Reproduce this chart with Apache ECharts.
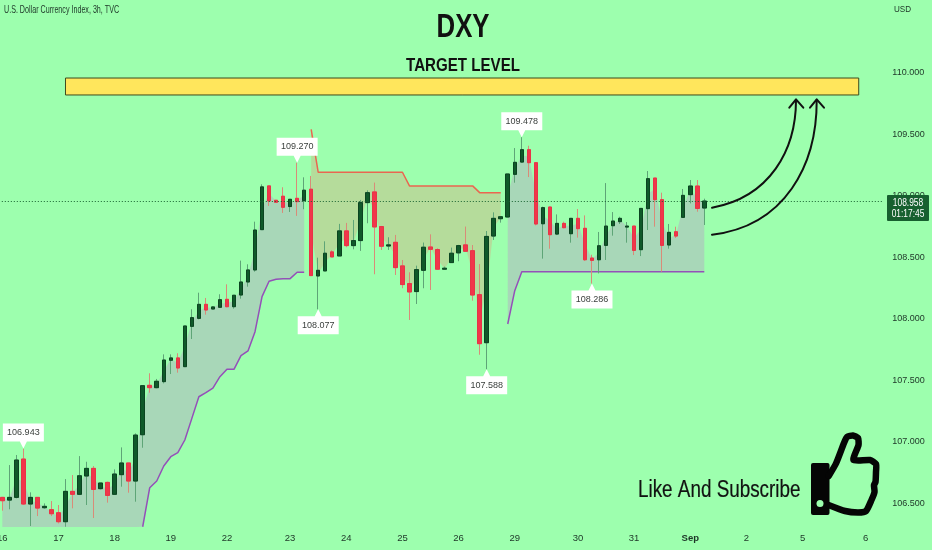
<!DOCTYPE html>
<html>
<head>
<meta charset="utf-8">
<style>html,body{margin:0;padding:0;background:#9dffae}#c{width:932px;height:550px}</style>
<script src="https://cdn.jsdelivr.net/npm/echarts@6/dist/echarts.min.js"></script>
</head>
<body>
<div id="c"></div>
<script>
const opens = [106.546,106.524,106.546,106.858,106.492,106.546,106.462,106.446,106.421,106.348,106.595,106.571,106.720,106.782,106.617,106.668,106.571,106.731,106.826,106.679,107.056,107.458,107.439,107.488,107.662,107.681,107.610,107.938,108.003,108.117,108.079,108.093,108.158,108.098,108.193,108.299,108.397,108.725,109.081,108.964,108.997,108.913,108.980,108.961,109.054,108.348,108.389,108.544,108.511,108.715,108.595,108.636,108.945,109.032,108.750,108.592,108.622,108.430,108.286,108.221,108.394,108.584,108.563,108.403,108.457,108.536,108.601,108.554,108.196,107.805,108.673,108.814,108.828,109.175,109.275,109.376,109.270,108.773,108.909,108.689,108.776,108.692,108.817,108.736,108.494,108.480,108.597,108.757,108.790,108.746,108.754,108.562,108.896,109.145,108.969,108.600,108.708,108.825,109.010,109.080,108.901];
const closes = [106.519,106.546,106.850,106.492,106.546,106.459,106.473,106.413,106.348,106.595,106.571,106.722,106.782,106.611,106.663,106.562,106.736,106.826,106.679,107.053,107.455,107.439,107.491,107.664,107.681,107.599,107.941,108.009,108.117,108.071,108.096,108.155,108.098,108.191,108.299,108.397,108.722,109.073,108.959,108.948,108.907,108.972,108.953,109.046,108.351,108.394,108.533,108.503,108.715,108.595,108.636,108.945,109.026,108.747,108.590,108.601,108.416,108.278,108.218,108.400,108.582,108.565,108.403,108.411,108.533,108.595,108.549,108.193,107.797,108.670,108.817,108.830,109.178,109.273,109.376,109.270,108.771,108.904,108.684,108.776,108.741,108.817,108.733,108.480,108.475,108.594,108.754,108.795,108.817,108.754,108.556,108.898,109.140,108.969,108.597,108.703,108.673,109.004,109.080,108.898,108.958];
const lows = [106.438,106.449,106.538,106.484,106.313,106.394,106.454,106.394,106.334,106.307,106.457,106.565,106.484,106.378,106.611,106.503,106.571,106.633,106.584,106.511,106.950,107.398,107.434,107.474,107.550,107.561,107.607,107.835,107.995,108.033,108.077,108.088,108.093,108.082,108.163,108.261,108.383,108.725,108.918,108.945,108.861,108.869,108.837,108.891,108.351,108.077,108.389,108.503,108.511,108.582,108.565,108.552,108.777,108.362,108.560,108.560,108.356,108.248,107.990,108.120,108.248,108.234,108.397,108.397,108.457,108.468,108.549,108.147,107.707,107.588,108.641,108.782,108.825,109.107,109.270,109.153,108.760,108.489,108.570,108.681,108.736,108.619,108.660,108.470,108.286,108.369,108.478,108.676,108.771,108.619,108.518,108.510,108.722,108.749,108.383,108.570,108.657,108.825,108.939,108.871,108.763];
const highs = [106.550,106.809,106.891,106.943,106.587,106.546,106.497,106.516,106.484,106.695,106.728,106.882,106.836,106.801,106.663,106.674,106.774,106.953,106.826,107.067,107.460,107.556,107.510,107.710,107.710,107.719,107.941,108.077,108.212,108.169,108.101,108.199,108.280,108.191,108.473,108.443,108.790,109.094,109.081,108.967,109.070,108.972,109.270,109.151,109.162,108.497,108.630,108.557,108.772,108.780,108.804,108.967,109.045,109.108,108.755,108.663,108.682,108.478,108.378,108.432,108.620,108.687,108.573,108.424,108.579,108.601,108.750,108.600,108.445,108.714,108.866,108.836,109.178,109.389,109.478,109.408,109.270,108.912,108.912,108.849,108.790,108.817,108.893,108.841,108.521,108.706,109.104,108.868,108.830,108.787,108.754,108.898,109.202,109.145,109.026,108.771,108.749,109.056,109.129,109.129,108.977];
const supportFirst = [106.307,106.625,106.679,106.801,106.877,106.910,107.013,107.189,107.365,107.398,107.436,107.528,107.588,107.588,107.700,107.738,107.895,108.180,108.305,108.321,108.326,108.326,108.378,108.378];
const supportSecond = [107.957,108.228,108.383,108.383,108.383,108.383,108.383,108.383,108.383,108.383,108.383,108.383,108.383,108.383,108.383,108.383,108.383,108.383,108.383,108.383,108.383,108.383,108.383,108.383,108.383,108.383,108.383,108.383,108.383];
const resistance = [109.542,109.192,109.192,109.192,109.192,109.192,109.192,109.192,109.192,109.192,109.192,109.192,109.192,109.192,109.081,109.081,109.081,109.081,109.081,109.081,109.081,109.081,109.081,109.081,109.026,109.026,109.026,109.026];
const dayTicks = ['16','17','18','19','22','23','24','25','26','29','30','31','Sep','2','5','6'];
const dayTickSlots = [0,8,16,24,32,41,49,57,65,73,82,90,98,106,114,123];
const yTicks = [106.5,107,107.5,108,108.5,109,109.5,110];
const calloutSlots = [3,42,74,45,69,84];
const calloutValues = [106.943,109.270,109.478,108.077,107.588,108.286];
const calloutUp = [true,true,true,false,false,false];
const targetLow = 109.821, targetHigh = 109.959, targetFrom = 9, targetTo = 122;
const lastPrice = 108.958;
const yMin = 106.305, yMax = 110.594;
const slotCount = 126;

const BG = '#9dffae', TXT = '#1d3527', FONT = '"Liberation Sans",sans-serif';
const GREEN = '#10592a', GREEN_B = '#0b4420', RED = '#f1364a', RED_B = '#e83347';
const xLabels = Array.from({length: slotCount}, (_, i) => { const k = dayTickSlots.indexOf(i); return k < 0 ? '' : dayTicks[k]; });
const n = opens.length;
const full = opens.map((o, i) => [o, closes[i], lows[i], highs[i]]);
const bodies = opens.map((o, i) => [o, closes[i], Math.min(o, closes[i]), Math.max(o, closes[i])]);
const mids = opens.map((o, i) => (o + closes[i]) / 2);
const nulls = k => Array(k).fill(null);
const supportLine = nulls(20).concat(supportFirst, nulls(28), supportSecond);
const resistanceLine = nulls(44).concat(resistance, nulls(n - 72));
const floorBase = opens.map((_, i) => (i < 44 || i >= 72) ? (supportLine[i] ?? yMin) : null);
const floorDelta = opens.map((_, i) => floorBase[i] == null ? null : mids[i] - floorBase[i]);
const ceilBase = opens.map((_, i) => resistanceLine[i] == null ? null : mids[i]);
const ceilDelta = opens.map((_, i) => resistanceLine[i] == null ? null : resistanceLine[i] - mids[i]);
const hidden = {opacity: 0, width: 0};
const upTip = 'path://M0 0H41V18H24L20.5 25L17 18H0Z';
const downTip = 'path://M0 25H41V7H24L20.5 0L17 7H0Z';

const thumbOutline = [[828.7,476],[836,463.5],[844,443],[847,437],[853,435.5],[858,438],[858.5,445],[853.5,460],[870,460],[876,464],[876,472],[875.5,482],[874,485],[874.5,492],[871.5,500],[866,511],[858,512.5],[845,511],[828.5,505]];
const arrow = {stroke: '#111', lineWidth: 2, fill: null, lineCap: 'round', lineJoin: 'round'};
const txt = (x, y, text, font, scale, fill, align, z, extra) => ({type: 'text', z: z || 5, x, y, scaleX: scale,
  style: Object.assign({text, fill, font: font + ' ' + FONT, textAlign: align, textVerticalAlign: 'middle'}, extra || {})});

const chart = echarts.init(document.getElementById('c'), null, {renderer: 'canvas'});
chart.setOption({
  animation: false,
  backgroundColor: BG,
  grid: {left: -1.2, right: 48.7, top: 0, bottom: 23, outerBoundsMode: 'none', containLabel: false},
  xAxis: {
    type: 'category', data: xLabels, boundaryGap: true,
    axisLine: {show: false}, axisTick: {show: false}, splitLine: {show: false},
    axisLabel: {show: true, interval: 0, hideOverlap: false, color: TXT, fontFamily: FONT, fontSize: 9.5, margin: 6,
      formatter: v => v === 'Sep' ? '{b|Sep}' : v,
      rich: {b: {fontWeight: 'bold', color: TXT, fontFamily: FONT, fontSize: 9.5}}}
  },
  yAxis: {
    type: 'value', position: 'right', min: yMin, max: yMax, scale: true,
    axisLine: {show: false}, axisTick: {show: false}, splitLine: {show: false},
    axisLabel: {customValues: yTicks, color: TXT, fontFamily: FONT, fontSize: 9, margin: 9, formatter: v => v.toFixed(3)}
  },
  series: [
    {type: 'line', stack: 'low', data: floorBase, symbol: 'none', lineStyle: hidden, silent: true, z: 1},
    {type: 'line', stack: 'low', data: floorDelta, symbol: 'none', lineStyle: hidden, silent: true, z: 1,
      areaStyle: {color: 'rgba(205,95,215,0.25)', opacity: 1}},
    {type: 'line', stack: 'high', data: ceilBase, symbol: 'none', lineStyle: hidden, silent: true, z: 1},
    {type: 'line', stack: 'high', data: ceilDelta, symbol: 'none', lineStyle: hidden, silent: true, z: 1,
      areaStyle: {color: 'rgba(255,115,100,0.25)', opacity: 1}},
    {type: 'line', data: supportLine, symbol: 'none', silent: true, z: 2, lineStyle: {color: '#9450b8', width: 1.5}},
    {type: 'line', data: resistanceLine, symbol: 'none', silent: true, z: 2, lineStyle: {color: '#ea6650', width: 1.5}},
    {type: 'candlestick', data: full, barWidth: 4, silent: true, z: 3,
      itemStyle: {color: '#6aad80', color0: '#d98b80', borderColor: '#5ea577', borderColor0: '#d98b78', borderWidth: 1},
      markArea: {silent: true, itemStyle: {color: '#ffe65c', borderColor: '#3e4a1c', borderWidth: 1},
        data: [[{xAxis: targetFrom, yAxis: targetHigh}, {xAxis: targetTo, yAxis: targetLow}]]},
      markLine: {silent: true, symbol: 'none', label: {show: false},
        lineStyle: {color: '#17602f', width: 1, type: [1, 2]}, data: [{yAxis: lastPrice}]}
    },
    {type: 'candlestick', data: bodies, barWidth: 4, silent: true, z: 4,
      itemStyle: {color: GREEN, color0: RED, borderColor: GREEN_B, borderColor0: RED_B, borderWidth: 1, borderColorDoji: GREEN_B},
      markPoint: {silent: true, z: 6,
        data: calloutSlots.map((s, k) => ({
          coord: [s, calloutValues[k]], symbol: calloutUp[k] ? upTip : downTip, symbolSize: [41, 25],
          symbolOffset: [0, calloutUp[k] ? '-50%' : '50%'], symbolKeepAspect: false,
          itemStyle: {color: '#fff', borderWidth: 0},
          label: {show: true, position: 'inside', offset: [0, calloutUp[k] ? -3.5 : 3.5], color: '#3a3f3c', fontFamily: FONT, fontSize: 9,
            formatter: calloutValues[k].toFixed(3)}
        }))}
    }
  ],
  graphic: [
    txt(4, 10, 'U.S. Dollar Currency Index, 3h, TVC', '10.5px', 0.68, TXT, 'left'),
    txt(894, 10, 'USD', '9px', 0.9, TXT, 'left'),
    txt(463, 28, 'DXY', 'bold 33px', 0.78, '#111', 'center'),
    txt(463, 66, 'TARGET LEVEL', 'bold 18px', 0.84, '#111', 'center'),
    txt(638, 491, 'Like And Subscribe', '23px', 0.82, '#111', 'left', 5, {stroke: '#111', lineWidth: 0.2}),
    {type: 'rect', z: 20, shape: {x: 887, y: 195, width: 42, height: 26, r: 1}, style: {fill: '#17602f'}},
    txt(908, 203, '108.958', '10.5px', 0.8, '#fff', 'center', 21),
    txt(908, 214, '01:17:45', '10.5px', 0.8, '#fff', 'center', 21),
    {type: 'bezierCurve', z: 10, shape: {x1: 712, y1: 207.7, cpx1: 770, cpy1: 197, cpx2: 796, cpy2: 150, x2: 796, y2: 100}, style: arrow},
    {type: 'bezierCurve', z: 10, shape: {x1: 712, y1: 234.7, cpx1: 785, cpy1: 226, cpx2: 817, cpy2: 165, x2: 816.7, y2: 100}, style: arrow},
    {type: 'polyline', z: 10, shape: {points: [[789.3, 107.7], [796, 99.3], [803.3, 107.7]]}, style: arrow},
    {type: 'polyline', z: 10, shape: {points: [[810, 107.7], [816.7, 99.3], [824, 107.7]]}, style: arrow},
    {type: 'rect', z: 10, shape: {x: 811, y: 463, width: 18.5, height: 52, r: 2}, style: {fill: '#050505'}},
    {type: 'circle', z: 11, shape: {cx: 820, cy: 503.5, r: 3.5}, style: {fill: BG}},
    {type: 'polyline', z: 10, shape: {points: thumbOutline, smooth: 0.2}, style: {stroke: '#050505', lineWidth: 6.5, fill: null, lineJoin: 'round', lineCap: 'round'}}
  ]
});
</script>
</body>
</html>
